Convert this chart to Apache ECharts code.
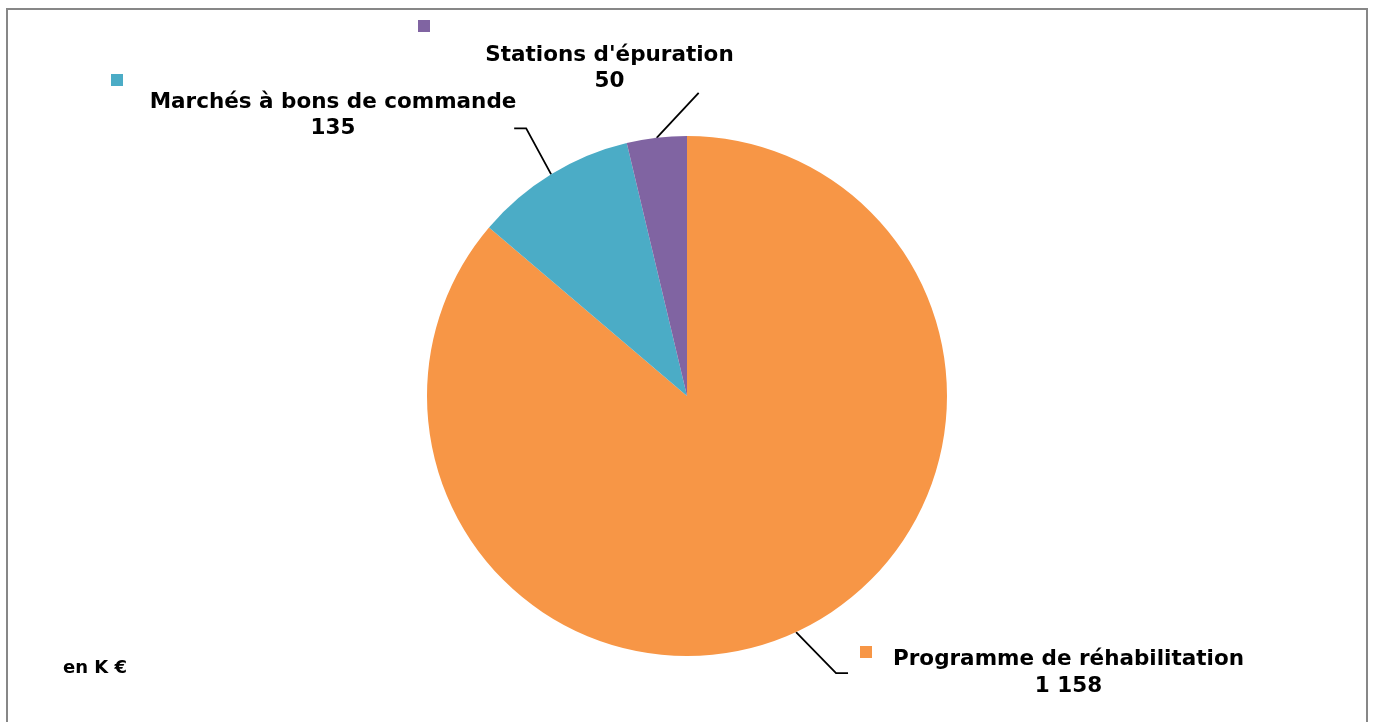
<!DOCTYPE html>
<html>
<head>
<meta charset="utf-8">
<script src="https://cdn.jsdelivr.net/npm/echarts@6/dist/echarts.min.js"></script>
<style>
  html, body { margin: 0; padding: 0; background: #ffffff; }
  #chart { width: 1375px; height: 722px; }
</style>
</head>
<body>
<div id="chart"></div>
<script>
// Budget split (in thousands of euros)
const categories = ['Programme de réhabilitation', 'Marchés à bons de commande', "Stations d'épuration"];
const values = [1158, 135, 50];
const valueLabels = ['1 158', '135', '50'];
const colors = ['#F79646', '#4BACC6', '#8064A2'];
const unitNote = 'en K €';

const LABEL_FONT = '"DejaVu Sans", sans-serif';

// Where each label block sits and how its leader line bends
const labelSpots = [
  { x: 860, y: 646, lead: [40, 41], tail: 12 },
  { x: 111, y: 70.5, lead: [-25, -46], tail: -12 },
  { x: 418, y: 10, lead: [42, -45], tail: 0 }
];

function inlineKeyLabel(i) {
  // key square on the same line as the name, value centred under the name
  return {
    formatter: '{sq|}{gap|}{name|' + categories[i] + '}\n{pad|}{val|' + valueLabels[i] + '}',
    rich: {
      sq: { width: 12, height: 12, backgroundColor: colors[i], align: 'left', verticalAlign: 'top', lineHeight: 27 },
      gap: { width: 21, align: 'left', lineHeight: 27, fontSize: 10 },
      name: { align: 'left', lineHeight: 27 },
      pad: { width: 33, align: 'left', lineHeight: 27, fontSize: 10 },
      val: { align: 'center', lineHeight: 27 }
    }
  };
}

function topKeyLabel(i, blockWidth, keyLine) {
  // key square on its own line, above and to the left of the text
  return {
    formatter: '{sq|}{gap|}\n{name|' + categories[i] + '}\n{val|' + valueLabels[i] + '}',
    rich: {
      sq: { width: 12, height: 12, backgroundColor: colors[i], align: 'left', lineHeight: keyLine },
      gap: { width: blockWidth - 12, align: 'left', lineHeight: keyLine, fontSize: 10 },
      name: { align: 'center', lineHeight: 26 },
      val: { align: 'center', lineHeight: 26 }
    }
  };
}

const itemLabels = [
  inlineKeyLabel(0),
  topKeyLabel(1, 444, 19),
  topKeyLabel(2, 383, 32)
];

const pieData = categories.map((name, i) => ({
  name: name,
  value: values[i],
  itemStyle: { color: colors[i] },
  label: itemLabels[i]
}));

const chart = echarts.init(document.getElementById('chart'), null, { renderer: 'canvas' });

chart.setOption({
  backgroundColor: '#ffffff',
  animation: false,
  graphic: [
    {
      type: 'rect',
      shape: { x: 7, y: 9, width: 1360, height: 740 },
      style: { fill: 'none', stroke: '#878787', lineWidth: 2 },
      silent: true
    },
    {
      type: 'text',
      left: 63,
      top: 659,
      style: {
        text: unitNote,
        font: 'bold 18px "DejaVu Sans", sans-serif',
        fill: '#000000'
      },
      silent: true
    }
  ],
  series: [
    {
      type: 'pie',
      center: [687, 396],
      radius: 260,
      startAngle: 90,
      clockwise: true,
      avoidLabelOverlap: false,
      silent: true,
      itemStyle: { borderWidth: 0 },
      emphasis: { disabled: true },
      label: {
        show: true,
        position: 'outside',
        color: '#000000',
        fontFamily: LABEL_FONT,
        fontWeight: 'bold',
        fontSize: 21.5
      },
      labelLine: {
        show: true,
        length: 20,
        length2: 10,
        smooth: false,
        lineStyle: { color: '#000000', width: 1.8 }
      },
      labelLayout: function (params) {
        const spot = labelSpots[params.dataIndex];
        const p0 = params.labelLinePoints[0];
        const p1 = [p0[0] + spot.lead[0], p0[1] + spot.lead[1]];
        const p2 = [p1[0] + spot.tail, p1[1]];
        return {
          x: spot.x,
          y: spot.y,
          align: 'left',
          verticalAlign: 'top',
          labelLinePoints: [p0, p1, p2]
        };
      },
      data: pieData
    }
  ]
});
</script>
</body>
</html>
